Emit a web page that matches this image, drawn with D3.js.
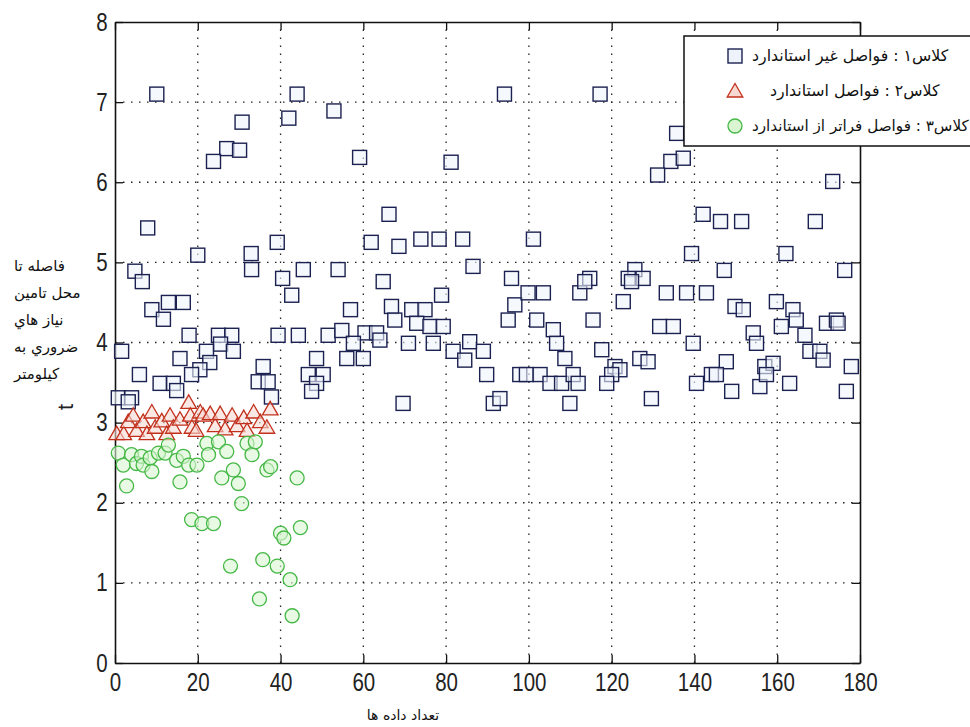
<!DOCTYPE html>
<html>
<head>
<meta charset="utf-8">
<script src="https://cdn.jsdelivr.net/npm/d3@7"></script>
<style>
  body { margin: 0; background: #fff; }
  .tick text { font-family: 'Liberation Sans Narrow', 'Liberation Sans', Arial, sans-serif; }
  .fa { font-family: 'DejaVu Sans', sans-serif; }
</style>
</head>
<body>
<div class="chart"></div>
<script>
// class 1 - non-standard distances (squares)
const nonStandard = [
  [10.1,7.1],[30.7,6.75],[27,6.42],[30.1,6.4],[23.8,6.26],[44,7.1],[42,6.8],[52.9,6.89],[59.1,6.31],
  [7.9,5.43],[20,5.09],[32.9,5.11],[39.2,5.25],[66.2,5.6],[61.9,5.25],[68.6,5.2],
  [94.1,7.1],[117.2,7.1],[81.2,6.25],[135.7,6.61],[134.3,6.26],[131.1,6.09],[73.9,5.29],[78.3,5.29],
  [84,5.29],[101.1,5.29],[137.3,6.3],[173.4,6.01],[142.1,5.6],[146.3,5.51],[151.4,5.51],[169.2,5.51],
  [139.3,5.11],[162.1,5.11],[147.2,4.9],[176.3,4.9],[133.2,4.62],[138.1,4.62],[142.9,4.62],
  [149.8,4.45],[151.8,4.41],[159.8,4.51],
  [4.8,4.89],[6.6,4.76],[8.9,4.41],[12.9,4.5],[16.5,4.5],[11.7,4.29],[17.9,4.09],[25,4.09],[28.2,4.09],
  [25.5,3.98],[28.6,3.89],[22.1,3.89],[22.9,3.75],[20.5,3.66],[15.7,3.8],[18.5,3.6],[1.6,3.89],[5.9,3.6],
  [10.9,3.49],[14.1,3.49],[14.9,3.4],[0.8,3.31],[4,3.31],[3.2,3.26],[35.8,3.7],[34.6,3.51],[37,3.51],
  [37.8,3.32],[33,4.91],[40.5,4.8],[42.7,4.59],[39.4,4.09],[44.3,4.09],
  [45.5,4.91],[53.9,4.91],[64.8,4.76],[78.9,4.59],[86.5,4.95],[95.8,4.8],[56.9,4.41],[66.8,4.45],
  [67.6,4.28],[71.7,4.41],[74.9,4.41],[72.9,4.24],[76.1,4.2],[79.3,4.2],[51.5,4.09],[54.8,4.15],
  [60.4,4.12],[63.2,4.12],[64,4.03],[57.6,3.99],[70.9,3.99],[76.9,3.99],[81.7,3.89],[85.7,4.01],
  [84.5,3.78],[89,3.89],[56,3.8],[60,3.8],[48.7,3.8],[46.7,3.6],[50.3,3.6],[48.7,3.49],[47.5,3.39],
  [69.6,3.24],[89.8,3.6],[91.4,3.24],[93,3.3],[97.8,3.6],[99.4,3.6],[102.7,3.6],[105.1,3.49],
  [107.9,3.49],[109.9,3.24],[96.6,4.47],[99.8,4.62],[103.5,4.62],[95,4.28],[101.9,4.28],[105.9,4.16],
  [106.7,3.99],[108.7,3.8],[110.7,3.6],[111.9,3.49],[112.3,4.62],
  [114.7,4.8],[113.5,4.76],[125.6,4.91],[124,4.8],[127.6,4.8],[124.8,4.76],[122.8,4.51],[163.8,4.41],
  [164.6,4.28],[171.9,4.24],[174.3,4.28],[174.7,4.24],[115.5,4.28],[131.6,4.2],[134.9,4.2],[139.7,3.99],
  [154.2,4.12],[155,3.99],[161,4.2],[166.7,4.09],[167.9,3.89],[170.3,3.89],[171.1,3.78],[177.9,3.7],
  [176.7,3.39],[163,3.49],[155.8,3.45],[157,3.7],[159,3.74],[157.4,3.6],[149,3.39],[147.7,3.76],
  [140.5,3.49],[144.1,3.6],[145.3,3.6],[126.8,3.8],[128.8,3.76],[129.6,3.3],[117.6,3.91],[120.8,3.7],
  [122,3.66],[120,3.6],[118.8,3.49]
]

// class 2 - standard distances (triangles)
const standard = [
  [0.4,2.85],[2.1,2.85],[3.2,3.0],[4.4,3.08],[5.2,2.89],[6.8,3.0],[7.7,2.85],[8.9,3.12],[9.7,2.93],
  [11.3,3.01],[12.5,2.85],[13.3,3.08],[14.1,2.93],[15.7,3.03],[17.8,3.24],[18.2,3.08],[18.6,2.93],
  [19.6,2.89],[20.6,3.12],[21.3,3.08],[23,3.1],[24.2,2.95],[25.4,3.1],[26.6,2.91],[28.3,3.08],
  [29.5,2.95],[31.1,3.05],[31.9,2.89],[33.5,3.12],[35.1,3.0],[36.7,2.93],[37.5,3.16]
]

// class 3 - above-standard distances (circles)
const aboveStandard = [
  [0.8,2.62],[2,2.47],[2.8,2.21],[4,2.6],[5.2,2.49],[6.4,2.58],[6.8,2.47],[8.5,2.56],[8.9,2.39],
  [10.5,2.62],[12.1,2.62],[12.9,2.72],[14.9,2.53],[15.7,2.26],[16.5,2.58],[17.8,2.47],[19.8,2.47],
  [22.2,2.74],[22.6,2.6],[25,2.76],[25.8,2.31],[27,2.64],[28.6,2.41],[29.8,2.24],[30.6,1.99],
  [31.9,2.74],[33.1,2.6],[33.9,2.76],[36.7,2.41],[37.6,2.45],[44,2.31],[18.5,1.79],[21,1.74],
  [23.8,1.74],[27.9,1.21],[35.7,1.29],[39.2,1.21],[40,1.62],[40.8,1.56],[44.8,1.69],[42.3,1.04],
  [34.9,0.8],[42.8,0.59]
]

const xTicks = [0, 20, 40, 60, 80, 100, 120, 140, 160, 180]
const yTicks = [0, 1, 2, 3, 4, 5, 6, 7, 8]
const legendLabels = ['کلاس۱ : فواصل غیر استاندارد', 'کلاس۲ : فواصل استاندارد', 'کلاس۳ : فواصل فراتر از استاندارد']
const yLabelLines = ['فاصله تا', 'محل تامين', 'نياز هاي', 'ضروري به', 'كيلومتر']
const xLabel = 'تعداد داده ها'

const W = 970, H = 727
const pLeft = 115, pRight = 860, pTop = 22, pBottom = 663

const svg = d3.select('.chart').append('svg')
  .attr('width', W).attr('height', H)

svg.append('rect').attr('width', W).attr('height', H).attr('fill', '#fff')

const x = d3.scaleLinear().domain([0, 180]).range([pLeft, pRight])
const y = d3.scaleLinear().domain([0, 8]).range([pBottom, pTop])

// dotted grid
const grid = svg.append('g').attr('stroke', '#222').attr('stroke-width', 1.3)
  .attr('stroke-dasharray', '1.5,6.5')
grid.selectAll('.gx').data(xTicks.slice(1, -1)).enter().append('line')
  .attr('x1', d => x(d)).attr('x2', d => x(d)).attr('y1', pBottom).attr('y2', pTop)
grid.selectAll('.gy').data(yTicks.slice(1, -1)).enter().append('line')
  .attr('y1', d => y(d)).attr('y2', d => y(d)).attr('x1', pLeft).attr('x2', pRight)

// axes, ticks pointing inward (matlab style)
const fmt = d3.format('d')
const axB = svg.append('g').attr('transform', `translate(0,${pBottom})`)
  .call(d3.axisBottom(x).tickValues(xTicks).tickSizeInner(-8).tickSizeOuter(0).tickPadding(10).tickFormat(fmt))
const axL = svg.append('g').attr('transform', `translate(${pLeft},0)`)
  .call(d3.axisLeft(y).tickValues(yTicks).tickSizeInner(-8).tickSizeOuter(0).tickPadding(9).tickFormat(fmt))
const axT = svg.append('g').attr('transform', `translate(0,${pTop})`)
  .call(d3.axisTop(x).tickValues(xTicks).tickSizeInner(-8).tickSizeOuter(0).tickFormat(''))
const axR = svg.append('g').attr('transform', `translate(${pRight},0)`)
  .call(d3.axisRight(y).tickValues(yTicks).tickSizeInner(-8).tickSizeOuter(0).tickFormat(''))

;[axB, axL, axT, axR].forEach(a => {
  a.select('.domain').attr('stroke', '#111').attr('stroke-width', 1.6)
  a.selectAll('.tick line').attr('stroke', '#111').attr('stroke-width', 1.3)
  a.selectAll('.tick text').attr('font-size', 25).attr('fill', '#222')
    .attr('transform', 'scale(0.82,1)')
})

// markers
const triPath = 'M0,-8.5L7.8,5L-7.8,5Z'

svg.append('g').selectAll('rect')
  .data(nonStandard).enter().append('rect')
  .attr('x', d => x(d[0]) - 7).attr('y', d => y(d[1]) - 7)
  .attr('width', 14).attr('height', 14)
  .attr('fill', '#eef3fb').attr('fill-opacity', 0.6)
  .attr('stroke', '#1b2150').attr('stroke-width', 1.4)

svg.append('g').selectAll('path')
  .data(standard).enter().append('path')
  .attr('d', triPath)
  .attr('transform', d => `translate(${x(d[0])},${y(d[1])})`)
  .attr('fill', '#f7d9d2').attr('fill-opacity', 0.6)
  .attr('stroke', '#c2301c').attr('stroke-width', 1.3)

svg.append('g').selectAll('circle')
  .data(aboveStandard).enter().append('circle')
  .attr('cx', d => x(d[0])).attr('cy', d => y(d[1])).attr('r', 7)
  .attr('fill', '#d9f5d2').attr('fill-opacity', 0.6)
  .attr('stroke', '#45b845').attr('stroke-width', 1.3)

// legend
const lg = svg.append('g')
lg.append('rect').attr('x', 684).attr('y', 36).attr('width', 320).attr('height', 110)
  .attr('fill', '#fff').attr('stroke', '#111').attr('stroke-width', 1.5)
const rowY = [56, 91, 126]
lg.append('rect').attr('x', 728).attr('y', rowY[0] - 7).attr('width', 14).attr('height', 14)
  .attr('fill', '#eef3fb').attr('stroke', '#1b2150').attr('stroke-width', 1.4)
lg.append('path').attr('d', triPath).attr('transform', `translate(735,${rowY[1] + 1})`)
  .attr('fill', '#f7d9d2').attr('stroke', '#c2301c').attr('stroke-width', 1.3)
lg.append('circle').attr('cx', 735).attr('cy', rowY[2]).attr('r', 7)
  .attr('fill', '#d9f5d2').attr('stroke', '#45b845').attr('stroke-width', 1.3)
const legendX = [752, 770, 752]
lg.selectAll('text').data(legendLabels).enter().append('text')
  .attr('class', 'fa')
  .attr('x', (d, i) => legendX[i]).attr('y', (d, i) => rowY[i] + 5)
  .attr('direction', 'rtl')
  .attr('text-anchor', 'end')
  .attr('font-size', (d, i) => i === 2 ? 15.2 : 15.8)
  .attr('fill', '#111')
  .text(d => d)

// y label (persian, multi line) and the rotated 't'
svg.append('g').selectAll('text').data(yLabelLines).enter().append('text')
  .attr('class', 'fa')
  .attr('x', 14).attr('y', (d, i) => 271 + i * 27)
  .attr('font-size', 15).attr('fill', '#111')
  .text(d => d)
svg.append('text')
  .attr('transform', 'translate(73,407) rotate(-90)')
  .attr('text-anchor', 'middle')
  .attr('font-family', 'Liberation Sans Narrow, Arial, sans-serif')
  .attr('font-size', 22).attr('fill', '#222')
  .text('t')

// x label
svg.append('text').attr('class', 'fa')
  .attr('x', 403).attr('y', 720)
  .attr('text-anchor', 'middle')
  .attr('font-size', 14).attr('fill', '#111')
  .text(xLabel)
</script>
</body>
</html>
